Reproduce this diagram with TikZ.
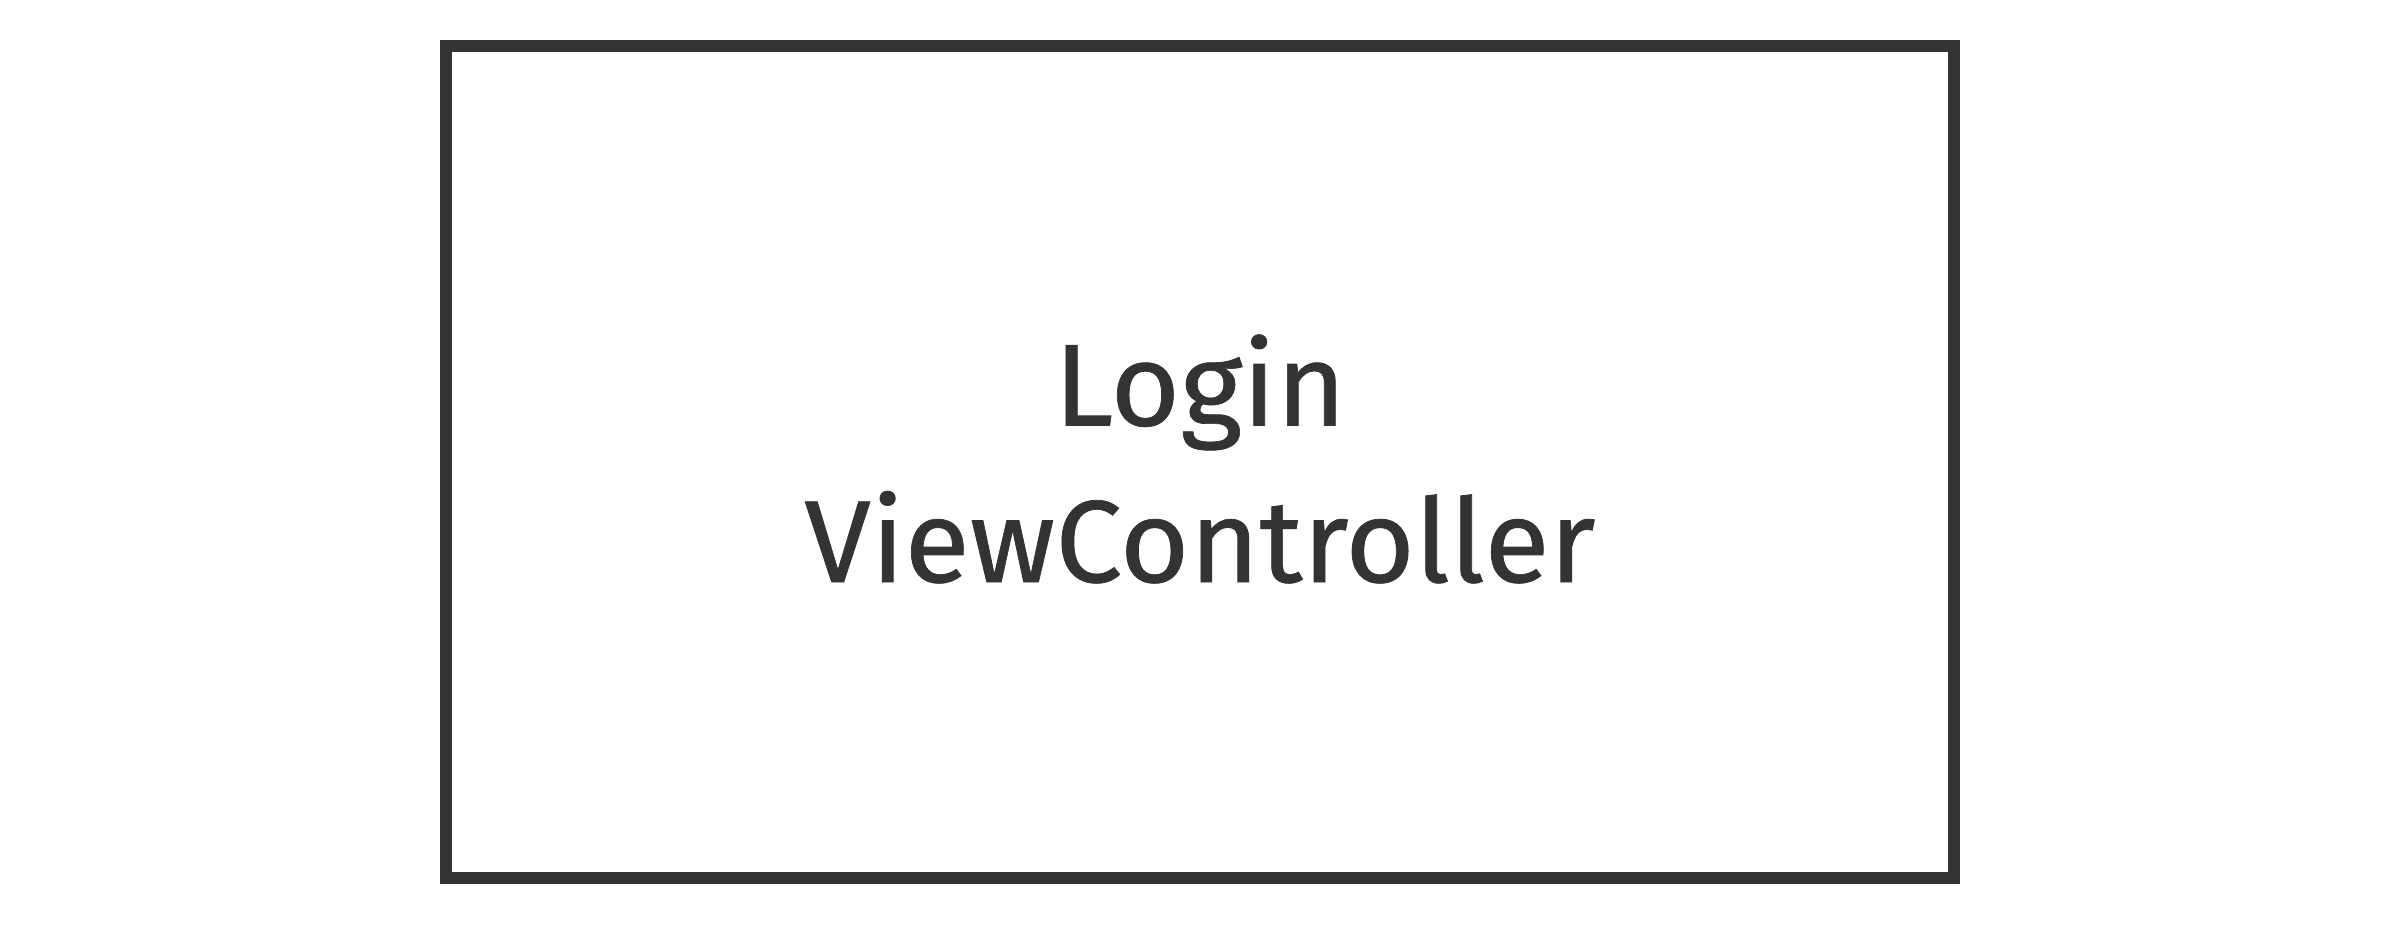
\documentclass[tikz,border=0pt]{standalone}
\usepackage{fontspec}
\setmainfont{Fira Sans}[FakeStretch=1.024,FakeBold=0.6]
\definecolor{ink}{HTML}{333333}
\begin{document}
\begin{tikzpicture}[x=0.3pt,y=-0.3pt,
  frame/.style={draw=ink,line width=3.6pt,inner sep=0pt,minimum width=452.4pt,minimum height=249.6pt},
  lbl/.style={anchor=base,text=ink,inner sep=0pt,font=\fontsize{35}{42}\selectfont}]
\useasboundingbox (0,0) rectangle (2400,924);
\node[frame] (box) at (1200,462) {};
\node[lbl] (login) at (1200,425.5) {Login};
\node[lbl] (vc) at (1200,582) {ViewController};
\end{tikzpicture}
\end{document}
